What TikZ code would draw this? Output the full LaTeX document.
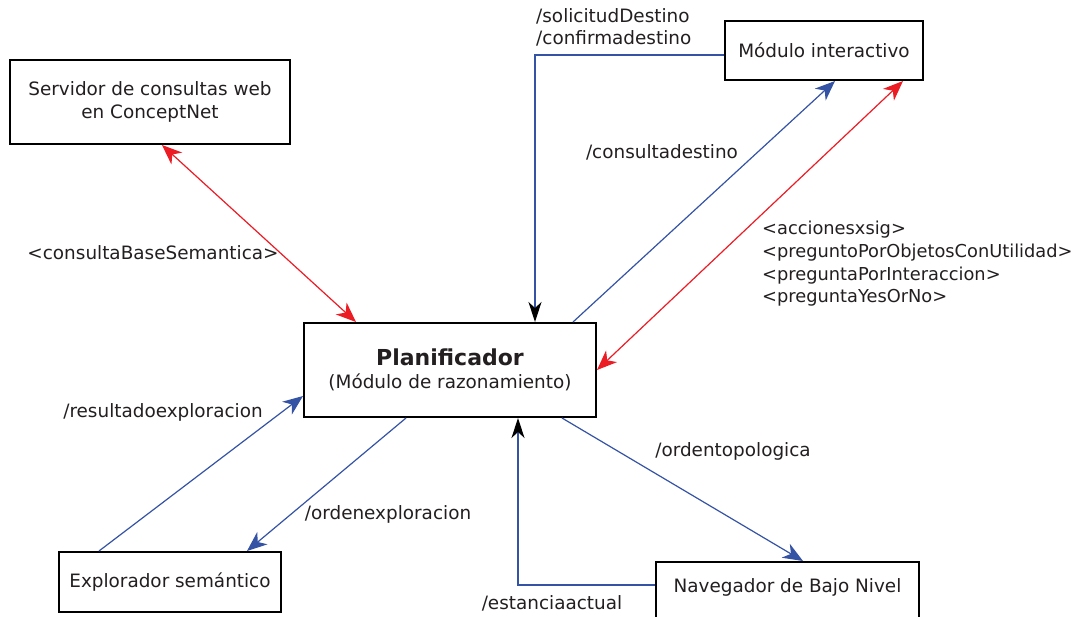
\documentclass[tikz,border=0pt]{standalone}
\usepackage{fontspec}
\setmainfont{DejaVu Sans}
\usetikzlibrary{arrows.meta,calc,positioning}
\definecolor{flujo}{HTML}{3553A5}
\definecolor{semantico}{HTML}{EC1C24}
\definecolor{texto}{HTML}{231F20}
\newcommand{\letra}{\fontsize{18.4}{22.7}\selectfont}
\tikzset{
	modulo/.style={draw=black, line width=2pt, fill=white, align=center, text=texto},
	etiqueta/.style={text=texto, inner sep=0pt, align=left},
	msg/.style={draw=flujo, line width=1.2pt, -{Stealth[length=20pt,width=16pt,inset=6pt]}},
	respuesta/.style={draw=flujo, line width=1.2pt, -{Stealth[length=20pt,width=13pt,inset=6pt,color=black]}},
	dual/.style={draw=semantico, line width=1.2pt, {Stealth[length=20pt,width=16pt,inset=6pt]}-{Stealth[length=20pt,width=16pt,inset=6pt]}},
}

\begin{document}
\begin{tikzpicture}[x=1pt, y=-1pt, font=\letra]
	\useasboundingbox (0,0) rectangle (1079,616);
	
	\node[modulo, minimum width=280pt, minimum height=84pt] (serv) at (150,102) {Servidor de consultas web\\en ConceptNet};
	\node[modulo, minimum width=198pt, minimum height=59pt] (inter) at (824,50.5) {Módulo interactivo};
	\node[modulo, minimum width=292pt, minimum height=94pt] (plan) at (450,370) {{\fontsize{22}{26}\selectfont\bfseries Planificador}\\(Módulo de razonamiento)};
	\node[modulo, minimum width=222pt, minimum height=60pt] (expl) at (170,582) {Explorador semántico};
	\node[modulo, minimum width=263pt, anchor=north west, inner ysep=17pt, text height=13pt, text depth=45pt] (nav) at (655,561) {Navegador de Bajo Nivel};
	
	\coordinate (giro1) at (535,55);
	\coordinate (giro2) at (518,585);
	
	\node[etiqueta, anchor=north west] (l1) at (536,8) {/solicitudDestino\\/confirmadestino};
	\node[etiqueta] (l2) at (662,152) {/consultadestino};
	\node[etiqueta] (l3) at (153,253) {<consultaBaseSemantica>};
	\node[etiqueta, anchor=north west, font=\fontsize{17.8}{22.7}\selectfont] (l4) at (762,221) {<accionesxsig>\\<preguntoPorObjetosConUtilidad>\\<preguntaPorInteraccion>\\<preguntaYesOrNo>};
	\node[etiqueta] (l5) at (163,412) {/resultadoexploracion};
	\node[etiqueta] (l6) at (388,514) {/ordenexploracion};
	\node[etiqueta] (l7) at (733,451) {/ordentopologica};
	\node[etiqueta] (l8) at (552,603) {/estanciaactual};
	
	\draw[dual] (162,0 |- serv.south) -- (356,0 |- plan.north);
	\draw[dual] (plan.east) -- (903,0 |- inter.south);
	\draw[respuesta] (inter.west |- giro1) -- (giro1) -- (giro1 |- plan.north);
	\draw[msg] (573,0 |- plan.north) -- (835,0 |- inter.south);
	\draw[msg] (99,0 |- expl.north) -- ($(plan.west)+(0,26)$);
	\draw[msg] (406,0 |- plan.south) -- (247,0 |- expl.north);
	\draw[respuesta] (nav.west |- giro2) -- (giro2) -- (giro2 |- plan.south);
	\draw[msg] (562,0 |- plan.south) -- (803,0 |- nav.north);
\end{tikzpicture}
\end{document}
